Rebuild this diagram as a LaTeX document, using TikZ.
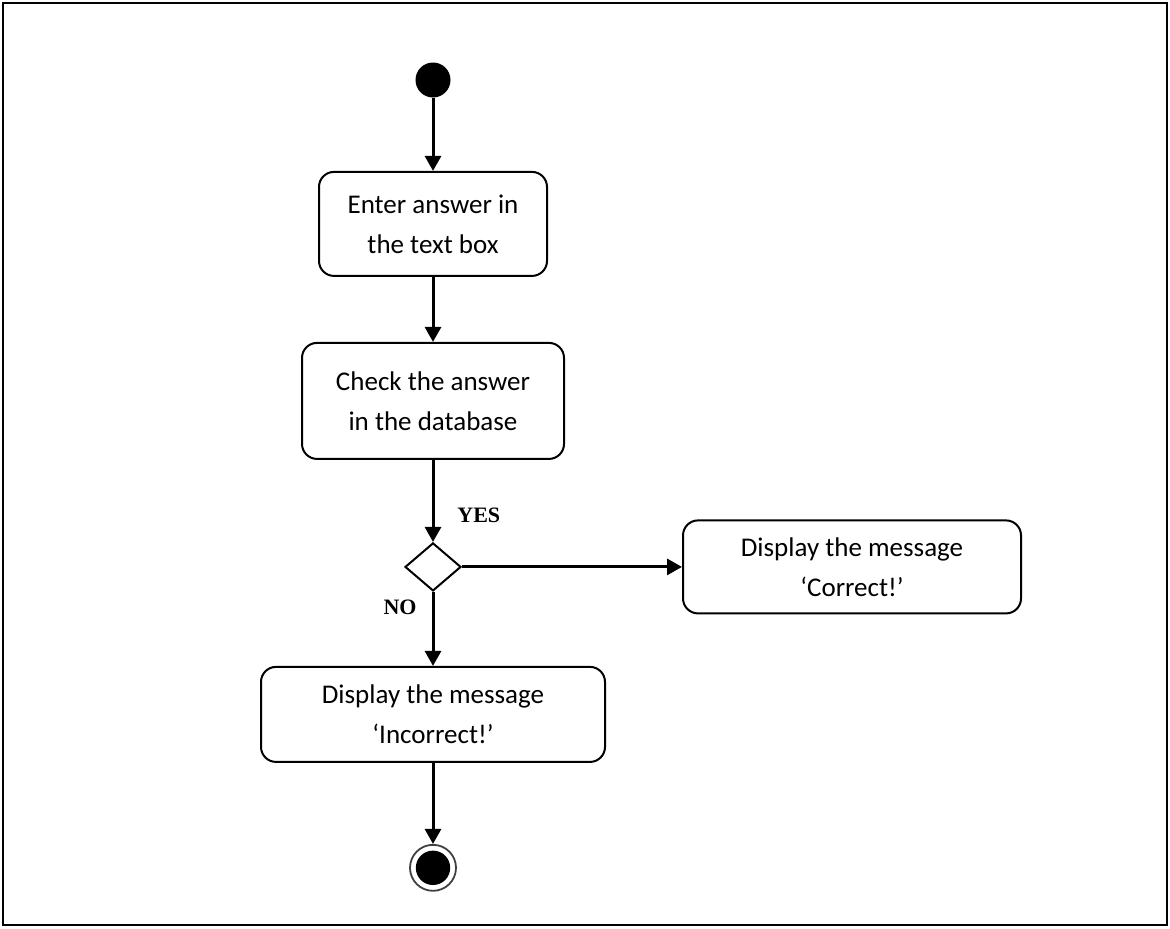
\documentclass[tikz,border=0pt]{standalone}
\usepackage{fontspec}
\setmainfont{Carlito}
\newfontfamily\lblfont{Liberation Serif}
\usetikzlibrary{positioning,arrows.meta,shapes.geometric}

\begin{document}
\begin{tikzpicture}[x=0.5pt,y=-0.5pt,
box/.style={draw, line width=1pt, rounded corners=7.5pt, align=center, font=\fontsize{13.5pt}{20pt}\selectfont},
arr/.style={-{Triangle[length=7.5pt,width=8pt]}, line width=1.5pt},
startnode/.style={circle, fill=black, minimum size=17.5pt, inner sep=0pt},
endnode/.style={circle, draw=black!75, line width=0.9pt, minimum size=23pt, inner sep=0pt,
  path picture={\fill (path picture bounding box.center) circle (8.6pt);}},
decision/.style={diamond, draw, line width=1pt, minimum width=28pt, minimum height=24pt, inner sep=0pt},
lbl/.style={inner sep=0pt, font=\lblfont\bfseries\fontsize{11pt}{13pt}\selectfont}
]
\useasboundingbox (0,0) rectangle (1170,928);
\draw[line width=0.6pt] (3,3) rectangle (1167,925);

\node[startnode] (start) at (433,80) {};
\node[box, minimum width=114pt, minimum height=52pt, below=36.5pt of start] (enter) {Enter answer in\\the text box};
\node[box, minimum width=131pt, minimum height=58pt, below=32.5pt of enter] (check) {Check the answer\\in the database};
\node[decision, below=41pt of check] (dec) {};
\node[box, minimum width=169pt, minimum height=46.5pt, right=110pt of dec] (correct) {Display the message\\‘Correct!’};
\node[box, minimum width=172pt, minimum height=47.5pt, below=37pt of dec] (incorrect) {Display the message\\‘Incorrect!’};
\node[endnode, below=40.5pt of incorrect] (stop) {};

\node[lbl, anchor=west] (yes) at (457,515) {YES};
\node[lbl, anchor=east] (no) at (417,607) {NO};

\draw[arr] (start) -- (enter);
\draw[arr] (enter) -- (check);
\draw[arr] (check) -- (dec);
\draw[arr] (dec) -- (correct);
\draw[arr] (dec) -- (incorrect);
\draw[arr] (incorrect) -- (stop);
\end{tikzpicture}
\end{document}
